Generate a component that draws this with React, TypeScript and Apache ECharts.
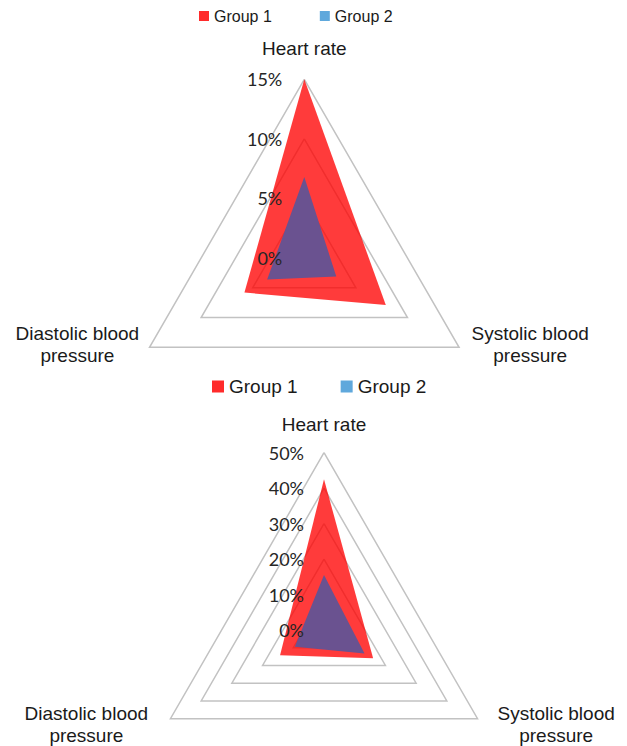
import React, { useEffect, useRef } from 'react';
import * as echarts from 'echarts';

// ---- data ----
const indicatorNames = ['Heart rate', 'Diastolic blood pressure', 'Systolic blood pressure'];
const groupNames = ['Group 1', 'Group 2'];

const topMax = 15;
const topSplit = 3;
const topGroup1 = [15, 5.8, 7.9];
const topGroup2 = [6.8, 3.6, 3.1];

const bottomMax = 50;
const bottomSplit = 5;
const bottomGroup1 = [42.5, 14.3, 16.0];
const bottomGroup2 = [15.5, 9.5, 13.2];

const nameFont = '"Liberation Sans", Arial, sans-serif';
const tickFont = 'Lato, "Noto Sans", sans-serif';
const textColor = '#1a1a1a';

const red = '#FF2B2B';
const redArea = '#FF0000';
const blue = '#5FA8DC';
const purple = '#6A5290';

function nameFormatter(name: string) {
  if (name === 'Heart rate') return '{h|Heart rate}\n{sh| }';
  const words = name.split(' ');
  const line1 = words.slice(0, 2).join(' ');
  const line2 = words.slice(2).join(' ');
  const tag = name.startsWith('Diastolic') ? 'l' : 'r';
  return `{${tag}|${line1}}\n{${tag}|${line2}}\n{sc| }`;
}

type Geo = {
  center: number[];
  radius: number;
  max: number;
  split: number;
  gap: number;
  labelMargin: number;
  wl: number;
  wr: number;
  sh: number;
  sc: number;
};

const topGeo: Geo = { center: [304.3, 258], radius: 178.7, max: topMax, split: topSplit, gap: 10, labelMargin: 22, wl: 127, wr: 125, sh: 10, sc: 16 };
const bottomGeo: Geo = { center: [324, 630], radius: 177.3, max: bottomMax, split: bottomSplit, gap: 14, labelMargin: 20, wl: 144, wr: 133, sh: 3, sc: 3 };

// grid radar: split lines + axis names, drawn below the areas
function gridRadar(g: Geo) {
  const base = { fontSize: 19, fontFamily: nameFont, color: textColor, lineHeight: 22 };
  return {
    z: 0,
    center: g.center,
    radius: g.radius,
    shape: 'polygon',
    startAngle: 90,
    splitNumber: g.split,
    nameGap: g.gap,
    axisName: {
      formatter: nameFormatter,
      color: textColor,
      fontSize: 19,
      fontFamily: nameFont,
      rich: {
        h: { ...base },
        l: { ...base, width: g.wl, align: 'center' },
        r: { ...base, width: g.wr, align: 'center' },
        sh: { fontSize: 1, lineHeight: g.sh },
        sc: { fontSize: 1, lineHeight: g.sc },
      },
    },
    axisLine: { show: false },
    axisTick: { show: false },
    axisLabel: { show: false },
    splitArea: { show: false },
    splitLine: { lineStyle: { color: '#C2C2C2', width: 1.5 } },
    indicator: indicatorNames.map((n) => ({ name: n, min: 0, max: g.max })),
  };
}

// label radar: only the tick labels on the first axis, drawn above the areas
function labelRadar(g: Geo) {
  return {
    z: 5,
    center: g.center,
    radius: g.radius,
    shape: 'polygon',
    startAngle: 90,
    splitNumber: g.split,
    axisName: { show: false },
    axisLine: { show: false },
    axisTick: { show: false },
    splitArea: { show: false },
    splitLine: { show: false },
    indicator: indicatorNames.map((n, i) => ({
      name: n,
      min: 0,
      max: g.max,
      axisLabel:
        i === 0
          ? {
              show: true,
              margin: g.labelMargin,
              formatter: '{value}%',
              fontSize: 18,
              fontFamily: tickFont,
              color: '#262626',
            }
          : { show: false },
    })),
  };
}

function radarSeries(radarIndex: number, g1: number[], g2: number[]) {
  return {
    type: 'radar',
    radarIndex,
    symbol: 'none',
    silent: true,
    z: 2,
    data: [
      {
        name: groupNames[0],
        value: g1,
        itemStyle: { color: red },
        lineStyle: { width: 0, color: red },
        areaStyle: { color: redArea, opacity: 0.77 },
      },
      {
        name: groupNames[1],
        value: g2,
        itemStyle: { color: blue },
        lineStyle: { width: 0, color: blue },
        areaStyle: { color: purple, opacity: 1 },
      },
    ],
  };
}

export default function App() {
  const ref = useRef<HTMLDivElement>(null);
  useEffect(() => {
    if (!ref.current) return;
    const chart = echarts.init(ref.current, null, { renderer: 'svg' });
    chart.setOption({
      animation: false,
      backgroundColor: '#ffffff',
      legend: [
        {
          left: 199,
          top: 8,
          padding: 0,
          itemWidth: 10,
          itemHeight: 10,
          itemGap: 48,
          icon: 'rect',
          selectedMode: false,
          textStyle: { fontSize: 16, fontFamily: nameFont, color: textColor },
          data: groupNames,
        },
        {
          left: 212,
          top: 377,
          padding: 0,
          itemWidth: 12,
          itemHeight: 12,
          itemGap: 43,
          icon: 'rect',
          selectedMode: false,
          textStyle: { fontSize: 19, fontFamily: nameFont, color: textColor },
          data: groupNames,
        },
      ],
      radar: [gridRadar(topGeo), gridRadar(bottomGeo), labelRadar(topGeo), labelRadar(bottomGeo)],
      series: [radarSeries(0, topGroup1, topGroup2), radarSeries(1, bottomGroup1, bottomGroup2)],
    });
    return () => chart.dispose();
  }, []);
  return (
    <div
      ref={ref}
      style={{ position: 'fixed', left: 0, top: 0, width: 627, height: 746, background: '#fff' }}
    />
  );
}
